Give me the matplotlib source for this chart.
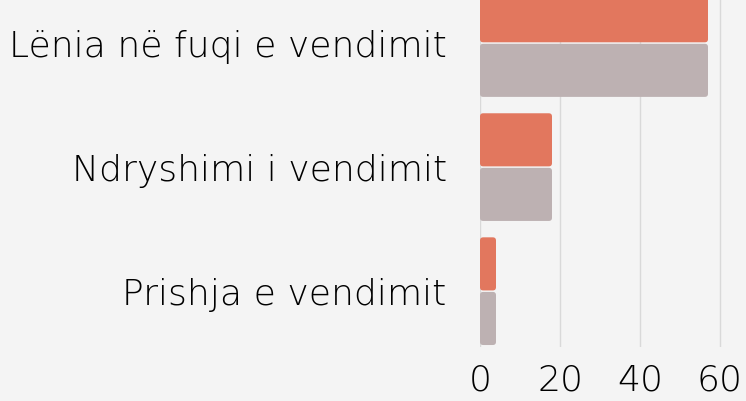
import matplotlib
matplotlib.use("Agg")
import matplotlib.pyplot as plt
from matplotlib.patches import FancyBboxPatch

# Data (bottom to top)
categories = ["Prishja e vendimit", "Ndryshimi i vendimit", "Lënia në fuqi e vendimit"]
series_a = [4, 18, 57]
series_b = [4, 18, 57]

bg = "#f4f4f4"
orange = "#e2775e"
grey = "#bdb1b2"

plt.rcParams["font.family"] = ["DejaVu Sans"]

fig = plt.figure(figsize=(7.46, 4.01), dpi=100, facecolor=bg)
ax = fig.add_axes([480 / 746, 1 - 347 / 401, 1 - 480 / 746, 347 / 401])
ax.set_facecolor(bg)

h = 0.44
pos = list(range(len(categories)))
bars_a = ax.barh([p + h / 2 for p in pos], series_a, height=h, color=orange)
bars_b = ax.barh([p - h / 2 for p in pos], series_b, height=h, color=grey)

ax.set_xlim(0, 66.5)
ax.set_ylim(-0.45, 2.347)

# rounded ends: swap each bar for a rounded box of the same size
for bars in (bars_a, bars_b):
    for r in bars:
        x, y, w, hh = r.get_x(), r.get_y(), r.get_width(), r.get_height()
        r.set_visible(False)
        box = FancyBboxPatch((x, y + 0.006), w, hh - 0.012,
                             boxstyle="round,pad=0,rounding_size=0.8",
                             mutation_aspect=4 / 124,
                             facecolor=r.get_facecolor(), edgecolor="none")
        ax.add_patch(box)

ax.set_yticks(pos)
ax.set_yticklabels(categories, fontsize=26, fontweight="light")
ax.set_xticks([0, 20, 40, 60])
ax.set_xticklabels(["0", "20", "40", "60"], fontsize=26, fontweight="light")
ax.tick_params(axis="y", length=0, pad=24)
ax.tick_params(axis="x", length=0, pad=12)

ax.grid(axis="x", color="#d9d9d9", linewidth=1)
ax.set_axisbelow(True)
for s in ax.spines.values():
    s.set_visible(False)

fig.savefig("out.png", dpi=100, facecolor=bg)
